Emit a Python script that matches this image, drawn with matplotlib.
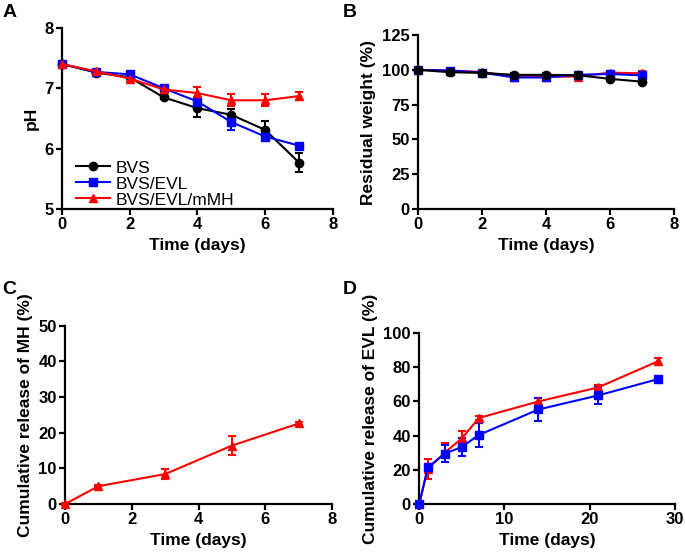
import numpy as np
import matplotlib
matplotlib.use("Agg")
import matplotlib.pyplot as plt
from matplotlib.lines import Line2D

plt.rcParams["font.family"] = ["Liberation Sans", "DejaVu Sans"]
plt.rcParams["font.weight"] = "bold"
plt.rcParams["axes.labelweight"] = "bold"

# A: pH
days_a = [0, 1, 2, 3, 4, 5, 6, 7]
ph_bvs = [7.40, 7.26, 7.18, 6.85, 6.67, 6.56, 6.31, 5.77]
ph_bvs_err = [0.02, 0.03, 0.03, 0.03, 0.15, 0.10, 0.15, 0.15]
ph_evl = [7.40, 7.27, 7.23, 7.00, 6.78, 6.44, 6.20, 6.05]
ph_evl_err = [0.02, 0.03, 0.03, 0.03, 0.08, 0.13, 0.08, 0.03]
ph_mmh = [7.40, 7.28, 7.16, 6.98, 6.92, 6.80, 6.80, 6.87]
ph_mmh_err = [0.02, 0.03, 0.05, 0.03, 0.10, 0.10, 0.10, 0.07]

# B: residual weight
wt_bvs = [100, 98.3, 97.8, 96.4, 96.4, 96.1, 93.5, 91.5]
wt_evl = [100, 99.5, 98.0, 94.5, 94.5, 96.5, 97.0, 96.0]
wt_mmh = [100, 99.5, 98.5, 95.0, 95.0, 95.2, 98.0, 97.5]
wt_err = [0.5, 1.0, 1.0, 1.0, 1.0, 1.0, 1.5, 1.5]

# C: MH release
days_c = [0, 1, 3, 5, 7]
mh_rel = [0, 5.0, 8.4, 16.4, 22.6]
mh_err = [0.2, 0.3, 1.4, 2.6, 0.5]

# D: EVL release
days_d = [0, 1, 3, 5, 7, 14, 21, 28]
evl_mmh = [0, 20.5, 30.0, 38.4, 50.3, 60.0, 68.2, 83.4]
evl_mmh_err = [0.5, 6.0, 5.5, 4.5, 1.0, 2.0, 1.5, 2.0]
evl_evl = [0, 21.4, 29.4, 33.4, 40.4, 55.3, 63.5, 73.0]
evl_evl_err = [0.5, 2.0, 5.0, 5.5, 7.0, 6.5, 5.0, 2.0]

names = ["BVS", "BVS/EVL", "BVS/EVL/mMH"]
colors = ["black", "#0000ff", "#ff0000"]
markers = ["o", "s", "^"]

fig = plt.figure(figsize=(6.85, 5.56), dpi=100)
axA = fig.add_axes([0.0905, 0.624, 0.3955, 0.326])
axB = fig.add_axes([0.610, 0.624, 0.374, 0.313])
axC = fig.add_axes([0.0949, 0.0935, 0.390, 0.3205])
axD = fig.add_axes([0.612, 0.0935, 0.373, 0.3075])


def style(ax):
    for s in ["top", "right"]:
        ax.spines[s].set_visible(False)
    for s in ["left", "bottom"]:
        ax.spines[s].set_linewidth(1.6)
    ax.tick_params(width=1.6, length=4, labelsize=12, pad=2)
    for lab in ax.get_xticklabels() + ax.get_yticklabels():
        lab.set_fontweight("bold")


def series(ax, x, y, e, i, ms=6):
    ax.errorbar(x, y, yerr=e, color=colors[i], marker=markers[i], ms=ms, lw=1.5,
                capsize=3, elinewidth=1.5, capthick=1.5,
                clip_on=False, zorder=3)


series(axA, days_a, ph_bvs, ph_bvs_err, 0)
series(axA, days_a, ph_evl, ph_evl_err, 1)
series(axA, days_a, ph_mmh, ph_mmh_err, 2)
axA.set_xlim(0, 8)
axA.set_ylim(5, 8)
axA.set_xticks([0, 2, 4, 6, 8])
axA.set_yticks([5, 6, 7, 8])
axA.set_xlabel("Time (days)", fontsize=12.5)
axA.set_ylabel("pH", fontsize=12.5)
handles = [Line2D([], [], color=colors[i], marker=markers[i], ms=6, lw=1.5)
           for i in range(3)]
axA.legend(handles, names, loc="lower left", bbox_to_anchor=(0.025, -0.03),
           frameon=False, prop={"size": 12.5, "weight": "normal"},
           handlelength=2.0, labelspacing=0.05, borderaxespad=0.0,
           handletextpad=0.3)

series(axB, days_a, wt_mmh, wt_err, 2)
series(axB, days_a, wt_evl, wt_err, 1)
series(axB, days_a, wt_bvs, wt_err, 0)
axB.set_xlim(0, 8)
axB.set_ylim(0, 125)
axB.set_xticks([0, 2, 4, 6, 8])
axB.set_yticks([0, 25, 50, 75, 100, 125])
axB.set_xlabel("Time (days)", fontsize=12.5)
axB.set_ylabel("Residual weight (%)", fontsize=12.5)

series(axC, days_c, mh_rel, mh_err, 2)
axC.set_xlim(0, 8)
axC.set_ylim(0, 50)
axC.set_xticks([0, 2, 4, 6, 8])
axC.set_yticks([0, 10, 20, 30, 40, 50])
axC.set_xlabel("Time (days)", fontsize=12.5)
axC.set_ylabel("Cumulative release of MH (%)", fontsize=12.5)

series(axD, days_d, evl_mmh, evl_mmh_err, 2)
series(axD, days_d, evl_evl, evl_evl_err, 1)
axD.set_xlim(0, 30)
axD.set_ylim(0, 100)
axD.set_xticks([0, 10, 20, 30])
axD.set_yticks([0, 20, 40, 60, 80, 100])
axD.set_xlabel("Time (days)", fontsize=12.5)
axD.set_ylabel("Cumulative release of EVL (%)", fontsize=12.5)

for ax in [axA, axB, axC, axD]:
    style(ax)

fig.text(0.004, 0.977, "A", fontsize=14, fontweight="bold", va="center")
fig.text(0.500, 0.977, "B", fontsize=14, fontweight="bold", va="center")
fig.text(0.004, 0.480, "C", fontsize=14, fontweight="bold", va="center")
fig.text(0.500, 0.480, "D", fontsize=14, fontweight="bold", va="center")

fig.savefig("out.png", dpi=100)
